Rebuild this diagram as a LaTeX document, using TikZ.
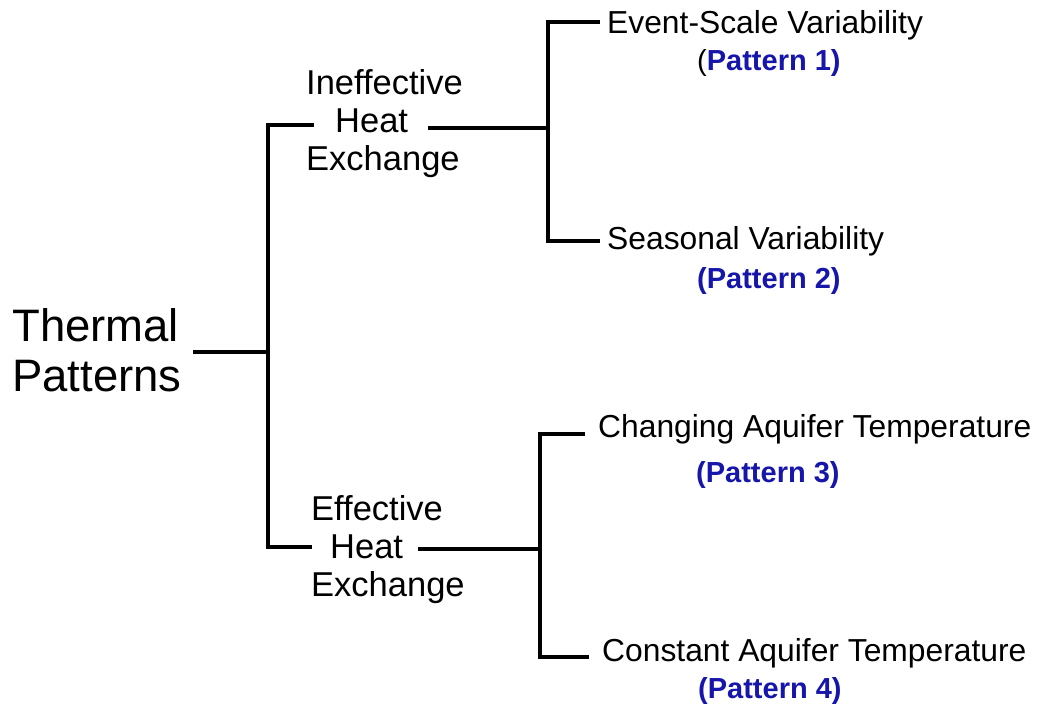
\documentclass[tikz,border=0pt]{standalone}
\usepackage{fontspec}
\setmainfont{Liberation Sans}
\definecolor{patblue}{RGB}{22,22,170}
\begin{document}
\begin{tikzpicture}[x=1pt,y=-1pt,
  conn/.style={line width=4.6pt,line cap=rect,line join=miter},
  txt/.style={inner sep=0pt,text=black},
  rootlbl/.style={txt,font=\fontsize{45.5}{50}\selectfont,align=left,anchor=west},
  midlbl/.style={txt,font=\fontsize{34.5}{38}\selectfont,align=left,anchor=west},
  leaflbl/.style={txt,font=\fontsize{31.8}{36}\selectfont,anchor=base west},
  patlbl/.style={txt,font=\fontsize{29}{34}\selectfont\bfseries,text=patblue,anchor=base west}]
  \useasboundingbox (0,0) rectangle (1042,707);

  % labels
  \node[rootlbl] (root) at (12,350) {Thermal\\Patterns};
  \node[midlbl] (ineff) at (306,124) {Ineffective\\\hspace*{29pt}Heat\\Exchange};
  \node[midlbl] (eff) at (311,550) {Effective\\\hspace*{19pt}Heat\\Exchange};
  \node[leaflbl] (ev) at (607,33) {Event-Scale Variability};
  \node[patlbl] (p1) at (697,70) {\textcolor{black}{\mdseries(}Pattern 1)};
  \node[leaflbl] (se) at (607,249) {Seasonal Variability};
  \node[patlbl] (p2) at (697,288) {(Pattern 2)};
  \node[leaflbl] (ch) at (598,437) {Changing Aquifer Temperature};
  \node[patlbl] (p3) at (696,482) {(Pattern 3)};
  \node[leaflbl] (co) at (602,661) {Constant Aquifer Temperature};
  \node[patlbl] (p4) at (698,698) {(Pattern 4)};

  % branch points and line ends
  \coordinate (rootEnd) at (195,352);
  \coordinate (trunk) at (268,352);
  \coordinate (ineffIn) at (312,125);
  \coordinate (effIn) at (310,547);
  \coordinate (ineffOut) at (430,128);
  \coordinate (split1) at (548,128);
  \coordinate (evIn) at (598,22);
  \coordinate (seIn) at (598,241);
  \coordinate (effOut) at (420,549);
  \coordinate (split2) at (540,549);
  \coordinate (chIn) at (583,434);
  \coordinate (coIn) at (587,657);

  % connectors
  \draw[conn] (rootEnd) -- (trunk);
  \draw[conn] (ineffIn) -| (trunk) |- (effIn);
  \draw[conn] (ineffOut) -- (split1);
  \draw[conn] (evIn) -| (split1) |- (seIn);
  \draw[conn] (effOut) -- (split2);
  \draw[conn] (chIn) -| (split2) |- (coIn);
\end{tikzpicture}
\end{document}
